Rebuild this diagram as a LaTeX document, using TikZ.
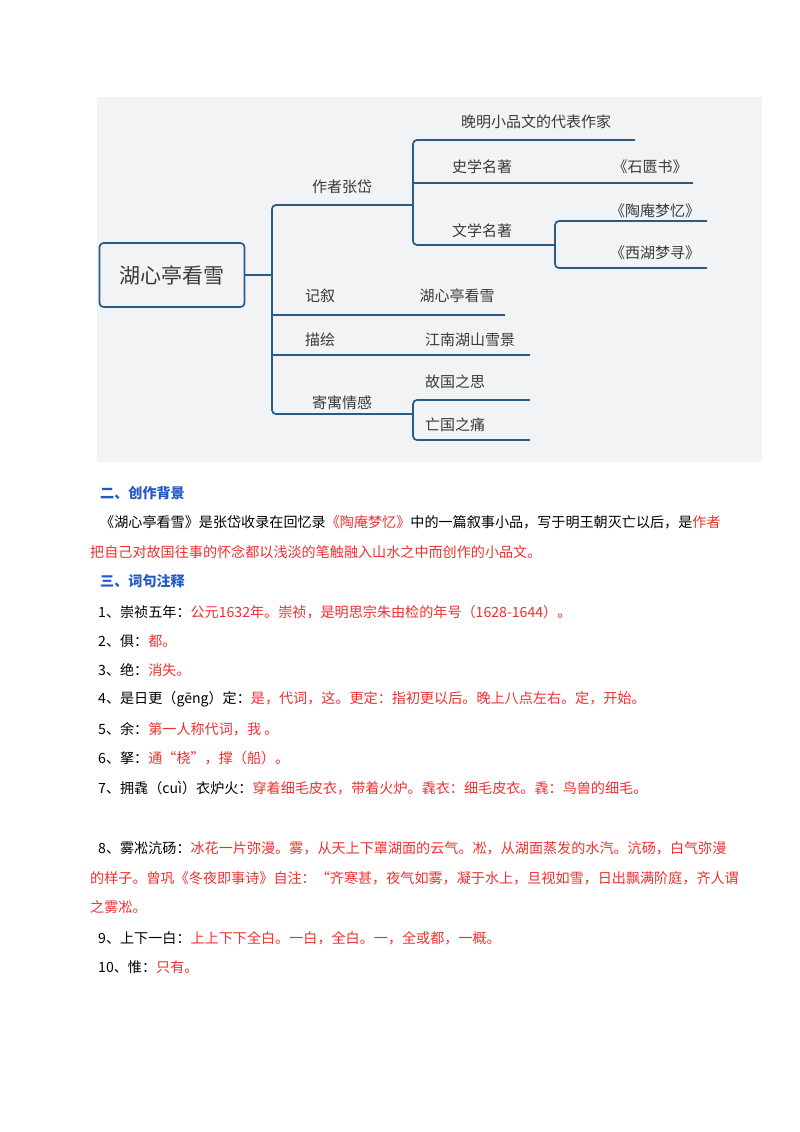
\documentclass[tikz,border=0pt]{standalone}
\usepackage{fontspec}
\setmainfont{Noto Sans CJK SC}
\usetikzlibrary{positioning}
\definecolor{linecol}{HTML}{2B5B85}
\definecolor{mapbg}{HTML}{F2F3F5}
\definecolor{txtred}{HTML}{F03030}
\definecolor{headblue}{HTML}{2458C8}
\definecolor{maptext}{HTML}{3A3A3A}
\newcommand{\rd}[1]{\textcolor{txtred}{#1}}
\tikzset{>=stealth}
\begin{document}
\begin{tikzpicture}[x=1pt,y=-1pt,
    branch/.style={draw=linecol, line width=1.7pt, rounded corners=4pt},
    maplbl/.style={text=maptext, font=\fontsize{15}{15}\selectfont, inner sep=1pt},
    bodyline/.style={anchor=west, inner sep=0pt, font=\fontsize{14.1}{14.1}\selectfont},
    headline/.style={bodyline, text=headblue, font=\fontsize{14.1}{14.1}\selectfont\bfseries}]
        \useasboundingbox[fill=white] (0,0) rectangle (800,1132);
        \fill[mapbg] (97,97) rectangle (762,462);
        %%%% root and trunk
        \node[draw=linecol, line width=1.7pt, rounded corners=4pt, minimum width=145pt, minimum height=64pt,
              text=maptext, font=\fontsize{21}{21}\selectfont] (root) at (172,275) {湖心亭看雪};
        \coordinate (trunk) at (272,275);
        \draw[branch] (root.east) -- (trunk);
        \draw[branch] (413,205) -- (272,205) -- (272,414) -- (413,414);
        \draw[branch] (272,315) -- (505,315);
        \draw[branch] (272,355) -- (530,355);
        %%%% author branch
        \draw[branch] (635,140) -- (413,140) -- (413,245) -- (555,245);
        \draw[branch] (413,183) -- (693,183);
        \draw[branch] (707,221) -- (555,221) -- (555,268) -- (707,268);
        %%%% feelings branch
        \draw[branch] (530,400) -- (413,400) -- (413,440) -- (530,440);
        %%%% labels
        \node[maplbl] (author) at (342,187) {作者张岱};
        \node[maplbl] (rep) at (536,122) {晚明小品文的代表作家};
        \node[maplbl] (hist) at (482,167) {史学名著};
        \node[maplbl] (shigui) at (650,167) {《石匮书》};
        \node[maplbl] (lit) at (482,231) {文学名著};
        \node[maplbl] (taoan) at (655,211) {《陶庵梦忆》};
        \node[maplbl] (xihu) at (655,253) {《西湖梦寻》};
        \node[maplbl] (narr) at (320,296) {记叙};
        \node[maplbl] (narrobj) at (457,296) {湖心亭看雪};
        \node[maplbl] (desc) at (320,340) {描绘};
        \node[maplbl] (descobj) at (470,340) {江南湖山雪景};
        \node[maplbl] (feel) at (342,403) {寄寓情感};
        \node[maplbl] (homeland) at (455,382) {故国之思};
        \node[maplbl] (loss) at (455,425) {亡国之痛};
        %%%% text below
        \node[headline] (h2) at (100,493) {二、创作背景};
        \node[bodyline] (p1) at (100,522) {《湖心亭看雪》是张岱收录在回忆录\rd{《陶庵梦忆》}中的一篇叙事小品，写于明王朝灭亡以后，是\rd{作者}};
        \node[bodyline] (p2) at (90,552) {\rd{把自己对故国往事的怀念都以浅淡的笔触融入山水之中而创作的小品文。}};
        \node[headline] (h3) at (100,581) {三、词句注释};
        \node[bodyline] (n1) at (98,612) {1、崇祯五年：\rd{公元1632年。崇祯，是明思宗朱由检的年号（1628-1644）。}};
        \node[bodyline] (n2) at (98,641) {2、俱：\rd{都。}};
        \node[bodyline] (n3) at (98,670) {3、绝：\rd{消失。}};
        \node[bodyline] (n4) at (98,699) {4、是日更（gēng）定：\rd{是，代词，这。更定：指初更以后。晚上八点左右。定，开始。}};
        \node[bodyline] (n5) at (98,729) {5、余：\rd{第一人称代词，我\ 。}};
        \node[bodyline] (n6) at (98,758) {6、拏：\rd{通“桡”，撑（船）。}};
        \node[bodyline] (n7) at (98,788) {7、拥毳（cuì）衣炉火：\rd{穿着细毛皮衣，带着火炉。毳衣：细毛皮衣。毳：鸟兽的细毛。}};
        \node[bodyline] (n8) at (98,848) {8、雾凇沆砀：\rd{冰花一片弥漫。雾，从天上下罩湖面的云气。凇，从湖面蒸发的水汽。沆砀，白气弥漫}};
        \node[bodyline] (n8b) at (90,878) {\rd{的样子。曾巩《冬夜即事诗》自注：“齐寒甚，夜气如雾，凝于水上，旦视如雪，日出飘满阶庭，齐人谓}};
        \node[bodyline] (n8c) at (90,907) {\rd{之雾凇。}};
        \node[bodyline] (n9) at (98,938) {9、上下一白：\rd{上上下下全白。一白，全白。一，全或都，一概。}};
        \node[bodyline] (n10) at (98,967) {10、惟：\rd{只有。}};
    \end{tikzpicture}
\end{document}
